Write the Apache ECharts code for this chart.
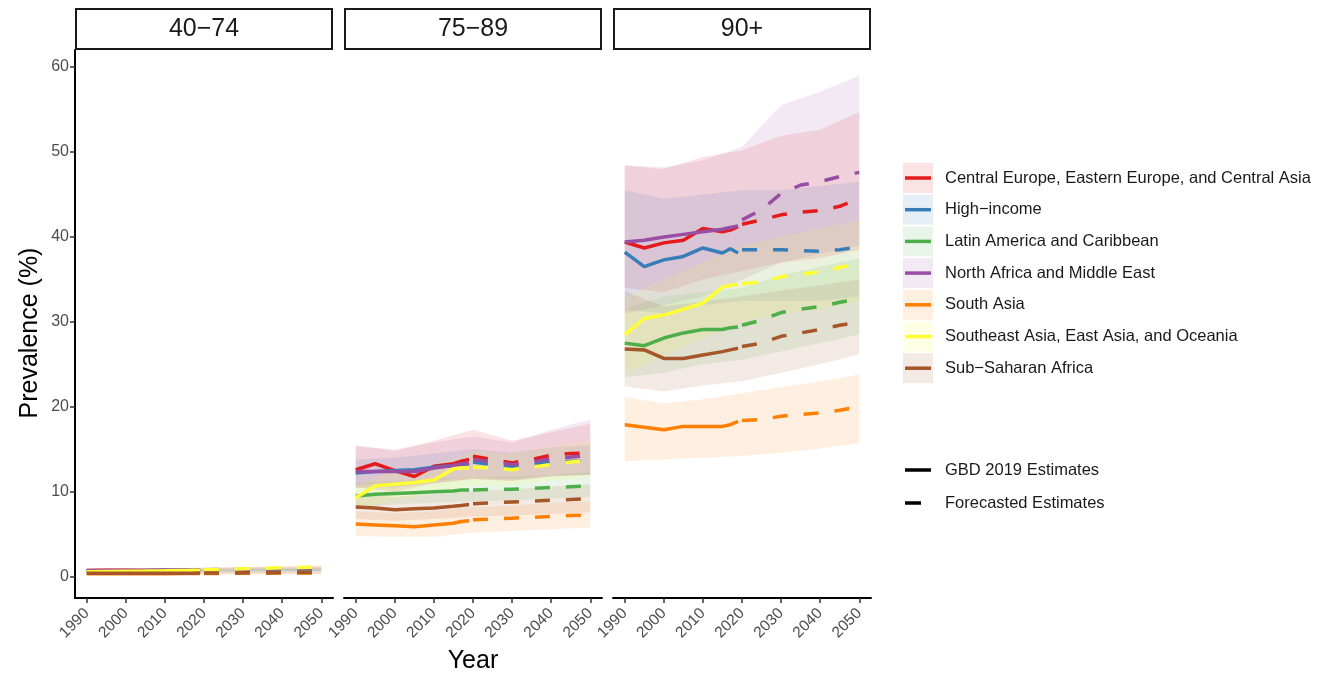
<!DOCTYPE html>
<html><head><meta charset="utf-8">
<script src="https://cdn.jsdelivr.net/npm/echarts@6/dist/echarts.min.js"></script>
<style>html,body{margin:0;padding:0;background:#fff}#c{width:1331px;height:679px}</style>
</head><body><div id="c"></div>
<script>
// ---------- DATA ----------
const panels = ['40−74', '75−89', '90+'];
const regions = ['Central Europe, Eastern Europe, and Central Asia', 'High−income', 'Latin America and Caribbean',
  'North Africa and Middle East', 'South Asia', 'Southeast Asia, East Asia, and Oceania', 'Sub−Saharan Africa'];
const colors = ['#E41A1C', '#377EB8', '#4DAF4A', '#984EA3', '#FF7F00', '#FFFF33', '#A65628'];
const estYears = [1990, 1995, 2000, 2005, 2010, 2015, 2017, 2019];
const fcYears = [2020, 2025, 2030, 2035, 2040, 2045, 2050];
const bandYears = [1990, 2000, 2010, 2020, 2030, 2040, 2050];
const xTicks = [1990, 2000, 2010, 2020, 2030, 2040, 2050];
const yTicks = [0, 10, 20, 30, 40, 50, 60];

// 40-74 : GBD estimates (rows follow `regions`)
const est_40_74 = [
  [0.75, 0.78, 0.76, 0.74, 0.76, 0.78, 0.79, 0.80],
  [0.70, 0.72, 0.72, 0.73, 0.75, 0.78, 0.79, 0.80],
  [0.55, 0.56, 0.57, 0.58, 0.60, 0.62, 0.63, 0.64],
  [0.72, 0.73, 0.74, 0.75, 0.77, 0.79, 0.80, 0.81],
  [0.35, 0.35, 0.35, 0.35, 0.36, 0.37, 0.38, 0.38],
  [0.60, 0.63, 0.65, 0.67, 0.70, 0.75, 0.77, 0.78],
  [0.40, 0.40, 0.40, 0.40, 0.41, 0.42, 0.42, 0.43]];
const fc_40_74 = [
  [0.82, 0.84, 0.86, 0.88, 0.90, 0.92, 0.94],
  [0.80, 0.81, 0.82, 0.84, 0.85, 0.86, 0.87],
  [0.65, 0.67, 0.69, 0.71, 0.73, 0.75, 0.77],
  [0.82, 0.85, 0.88, 0.91, 0.94, 0.97, 1.00],
  [0.39, 0.40, 0.41, 0.42, 0.43, 0.44, 0.45],
  [0.82, 0.88, 0.95, 1.00, 1.06, 1.10, 1.15],
  [0.44, 0.45, 0.46, 0.47, 0.48, 0.49, 0.50]];
const lo_40_74 = [
  [0.55, 0.55, 0.56, 0.60, 0.62, 0.65, 0.68],
  [0.55, 0.56, 0.58, 0.62, 0.63, 0.65, 0.66],
  [0.42, 0.43, 0.45, 0.48, 0.50, 0.53, 0.56],
  [0.52, 0.54, 0.56, 0.60, 0.64, 0.68, 0.72],
  [0.26, 0.26, 0.27, 0.29, 0.30, 0.31, 0.32],
  [0.45, 0.49, 0.54, 0.60, 0.68, 0.76, 0.82],
  [0.30, 0.30, 0.31, 0.33, 0.34, 0.35, 0.36]];
const hi_40_74 = [
  [1.00, 1.00, 1.02, 1.05, 1.10, 1.15, 1.20],
  [0.88, 0.90, 0.93, 0.98, 1.00, 1.03, 1.06],
  [0.70, 0.72, 0.75, 0.80, 0.86, 0.92, 0.98],
  [0.95, 0.97, 1.00, 1.06, 1.14, 1.22, 1.30],
  [0.46, 0.46, 0.48, 0.50, 0.53, 0.56, 0.58],
  [0.78, 0.84, 0.92, 1.00, 1.15, 1.30, 1.42],
  [0.52, 0.52, 0.54, 0.56, 0.60, 0.63, 0.66]];

// 75-89
const est_75_89 = [
  [12.6, 13.3, 12.5, 11.8, 13.0, 13.3, 13.6, 13.8],
  [12.2, 12.4, 12.5, 12.6, 12.9, 13.1, 13.2, 13.3],
  [9.5, 9.7, 9.8, 9.9, 10.0, 10.1, 10.2, 10.2],
  [12.4, 12.4, 12.4, 12.4, 12.8, 13.1, 13.3, 13.4],
  [6.2, 6.1, 6.0, 5.9, 6.1, 6.3, 6.5, 6.6],
  [9.3, 10.7, 10.9, 11.1, 11.4, 12.7, 12.8, 12.8],
  [8.2, 8.1, 7.9, 8.0, 8.1, 8.3, 8.4, 8.5]];
const fc_75_89 = [
  [14.2, 13.8, 13.4, 13.8, 14.3, 14.5, 14.6],
  [13.5, 13.2, 13.0, 13.2, 13.5, 13.6, 13.6],
  [10.2, 10.3, 10.3, 10.4, 10.5, 10.6, 10.7],
  [13.8, 13.5, 13.2, 13.5, 13.9, 14.1, 14.3],
  [6.7, 6.8, 6.9, 7.0, 7.1, 7.2, 7.3],
  [12.9, 12.8, 12.6, 12.9, 13.2, 13.5, 13.7],
  [8.6, 8.7, 8.8, 8.9, 9.0, 9.1, 9.2]];
const lo_75_89 = [
  [10.5, 10.0, 11.0, 11.5, 11.3, 11.8, 12.0],
  [10.8, 11.0, 11.3, 11.7, 11.5, 12.0, 12.0],
  [8.2, 8.5, 8.7, 8.9, 9.0, 9.2, 9.4],
  [10.5, 10.5, 11.0, 11.5, 11.3, 11.8, 12.0],
  [4.8, 4.7, 4.7, 5.2, 5.4, 5.6, 5.8],
  [7.8, 9.0, 9.8, 10.8, 10.8, 11.3, 11.7],
  [6.8, 6.6, 6.8, 7.1, 7.2, 7.4, 7.6]];
const hi_75_89 = [
  [15.5, 14.8, 16.0, 17.3, 16.0, 17.0, 18.0],
  [13.8, 14.0, 14.5, 15.0, 14.6, 15.2, 15.5],
  [11.0, 11.2, 11.5, 11.7, 11.8, 12.0, 12.3],
  [15.3, 15.0, 15.8, 16.5, 15.8, 17.3, 18.5],
  [7.7, 7.5, 7.7, 8.2, 8.4, 8.7, 8.9],
  [10.8, 12.5, 13.0, 14.8, 14.5, 15.3, 16.0],
  [9.7, 9.4, 9.7, 10.1, 10.3, 10.6, 10.9]];

// 90+
const est_90 = [
  [39.4, 38.7, 39.3, 39.6, 41.0, 40.6, 40.8, 41.2],
  [38.2, 36.5, 37.3, 37.7, 38.7, 38.1, 38.6, 38.1],
  [27.5, 27.2, 28.1, 28.7, 29.1, 29.1, 29.3, 29.4],
  [39.4, 39.6, 40.0, 40.3, 40.6, 40.9, 41.1, 41.3],
  [17.9, 17.6, 17.3, 17.7, 17.7, 17.7, 17.9, 18.3],
  [28.5, 30.4, 30.8, 31.5, 32.2, 34.1, 34.3, 34.4],
  [26.8, 26.7, 25.7, 25.7, 26.1, 26.5, 26.7, 26.9]];
const fc_90 = [
  [41.5, 42.0, 42.6, 42.9, 43.1, 43.6, 44.5],
  [38.5, 38.5, 38.5, 38.4, 38.3, 38.5, 38.8],
  [29.6, 30.2, 31.1, 31.5, 31.8, 32.3, 32.7],
  [42.0, 43.2, 45.1, 46.1, 46.5, 47.1, 47.6],
  [18.4, 18.5, 18.9, 19.1, 19.3, 19.6, 20.0],
  [34.5, 34.7, 35.3, 35.6, 35.9, 36.4, 36.9],
  [27.1, 27.5, 28.3, 28.7, 29.1, 29.6, 30.0]];
const lo_90 = [
  [34.0, 33.5, 35.0, 36.0, 37.0, 37.5, 38.5],
  [31.5, 31.0, 32.0, 32.5, 32.5, 32.5, 33.0],
  [23.5, 24.0, 25.0, 25.5, 26.5, 27.5, 28.5],
  [31.0, 32.0, 33.0, 35.0, 37.0, 38.0, 39.0],
  [13.6, 13.8, 14.0, 14.2, 14.6, 15.1, 15.7],
  [24.0, 26.0, 28.0, 30.0, 31.0, 31.5, 32.5],
  [22.4, 21.8, 22.5, 23.0, 24.0, 25.0, 26.2]];
const hi_90 = [
  [48.4, 48.0, 49.4, 50.2, 51.9, 52.6, 54.7],
  [45.5, 44.5, 45.0, 45.5, 45.5, 46.0, 46.5],
  [31.5, 33.0, 33.5, 34.0, 35.5, 36.5, 37.5],
  [48.4, 48.2, 49.0, 50.6, 55.5, 57.1, 59.0],
  [21.2, 20.4, 20.9, 21.6, 22.3, 23.0, 23.8],
  [33.0, 35.0, 37.0, 39.0, 40.0, 41.0, 42.0],
  [33.6, 31.8, 32.4, 33.0, 33.7, 34.3, 35.0]];

// ---------- CHART ----------
const estAll = [est_40_74, est_75_89, est_90];
const fcAll = [fc_40_74, fc_75_89, fc_90];
const loAll = [lo_40_74, lo_75_89, lo_90];
const hiAll = [hi_40_74, hi_75_89, hi_90];

const FONT = 'Liberation Sans, Arial, sans-serif';
const gridLeft = [75, 344, 613];
const gridW = 258, gridTop = 50, gridH = 548;

function hexA(hex, a) {
  const n = parseInt(hex.slice(1), 16);
  return 'rgba(' + (n >> 16) + ',' + ((n >> 8) & 255) + ',' + (n & 255) + ',' + a + ')';
}

const grids = [], xAxes = [], yAxes = [], series = [];
for (let p = 0; p < 3; p++) {
  grids.push({left: gridLeft[p], top: gridTop, width: gridW, height: gridH});
  xAxes.push({
    type: 'value', gridIndex: p, min: 1987, max: 2053,
    axisLine: {show: true, onZero: false, lineStyle: {color: '#000', width: 2}},
    axisTick: {show: true, customValues: xTicks, length: 5, lineStyle: {color: '#333', width: 1.5}},
    axisLabel: {customValues: xTicks, rotate: 45, color: '#4d4d4d', fontSize: 15.5, fontFamily: FONT, margin: 13,
      formatter: v => String(v)},
    splitLine: {show: false}
  });
  yAxes.push({
    type: 'value', gridIndex: p, min: -2.5, max: 62,
    axisLine: {show: p === 0, onZero: false, lineStyle: {color: '#000', width: 2}},
    axisTick: {show: p === 0, customValues: yTicks, length: 5, lineStyle: {color: '#333', width: 1.5}},
    axisLabel: {show: p === 0, customValues: yTicks, color: '#4d4d4d', fontSize: 16, fontFamily: FONT, margin: 6,
      formatter: v => String(v)},
    splitLine: {show: false}
  });
  // ribbons
  for (let r = 0; r < regions.length; r++) {
    const lo = loAll[p][r], hi = hiAll[p][r];
    series.push({
      type: 'custom', xAxisIndex: p, yAxisIndex: p, silent: true, z: 1,
      data: bandYears.map((y, i) => [y, lo[i], hi[i]]),
      encode: {x: 0, y: [1, 2]},
      renderItem: function (params, api) {
        if (params.dataIndex !== 0) return;
        const pts = [];
        for (let i = 0; i < bandYears.length; i++) pts.push(api.coord([bandYears[i], hi[i]]));
        for (let i = bandYears.length - 1; i >= 0; i--) pts.push(api.coord([bandYears[i], lo[i]]));
        return {type: 'polygon', shape: {points: pts}, style: {fill: hexA(colors[r], 0.12)}};
      }
    });
  }
  // lines
  for (let r = 0; r < regions.length; r++) {
    series.push({
      type: 'line', xAxisIndex: p, yAxisIndex: p, z: 3, showSymbol: false, silent: true,
      data: estYears.map((y, i) => [y, estAll[p][r][i]]),
      lineStyle: {color: colors[r], width: 3.5, type: 'solid', cap: 'butt'}
    });
    series.push({
      type: 'line', xAxisIndex: p, yAxisIndex: p, z: 3, showSymbol: false, silent: true,
      data: fcYears.map((y, i) => [y, fcAll[p][r][i]]),
      lineStyle: {color: colors[r], width: 3.5, type: [15, 16], cap: 'butt'}
    });
  }
}

const graphics = [];
// strips
for (let p = 0; p < 3; p++) {
  graphics.push({type: 'rect', shape: {x: gridLeft[p] + 1, y: 9, width: gridW - 2, height: 40},
    style: {fill: '#fff', stroke: '#1a1a1a', lineWidth: 2}});
  graphics.push({type: 'text', x: gridLeft[p] + gridW / 2, y: 29,
    style: {text: panels[p], fill: '#1a1a1a', font: '25px ' + FONT, textAlign: 'center', textVerticalAlign: 'middle'}});
}
// axis titles
graphics.push({type: 'text', x: 30, y: 333, rotation: Math.PI / 2,
  style: {text: 'Prevalence (%)', fill: '#000', font: '25px ' + FONT, textAlign: 'center', textVerticalAlign: 'middle'}});
graphics.push({type: 'text', x: 473, y: 661,
  style: {text: 'Year', fill: '#000', font: '25px ' + FONT, textAlign: 'center', textVerticalAlign: 'middle'}});
// legend: regions
const legY0 = 178, legDy = 31.7;
for (let r = 0; r < regions.length; r++) {
  const cy = legY0 + r * legDy;
  graphics.push({type: 'rect', shape: {x: 903, y: cy - 15, width: 30, height: 30}, style: {fill: hexA(colors[r], 0.12)}});
  graphics.push({type: 'line', shape: {x1: 905, y1: cy, x2: 931, y2: cy}, style: {stroke: colors[r], lineWidth: 3.5}});
  graphics.push({type: 'text', x: 945, y: cy, style: {text: regions[r], fill: '#1a1a1a', font: '16.5px ' + FONT, textVerticalAlign: 'middle'}});
}
// legend: line types
graphics.push({type: 'line', shape: {x1: 905, y1: 470, x2: 931, y2: 470}, style: {stroke: '#000', lineWidth: 3.5}});
graphics.push({type: 'text', x: 945, y: 470, style: {text: 'GBD 2019 Estimates', fill: '#1a1a1a', font: '16.5px ' + FONT, textVerticalAlign: 'middle'}});
graphics.push({type: 'line', shape: {x1: 905, y1: 503, x2: 921, y2: 503}, style: {stroke: '#000', lineWidth: 3.5}});
graphics.push({type: 'text', x: 945, y: 503, style: {text: 'Forecasted Estimates', fill: '#1a1a1a', font: '16.5px ' + FONT, textVerticalAlign: 'middle'}});

const chart = echarts.init(document.getElementById('c'), null, {renderer: 'canvas'});
chart.setOption({
  animation: false,
  backgroundColor: '#fff',
  textStyle: {fontFamily: FONT},
  grid: grids, xAxis: xAxes, yAxis: yAxes, series: series,
  graphic: graphics
});
</script></body></html>
